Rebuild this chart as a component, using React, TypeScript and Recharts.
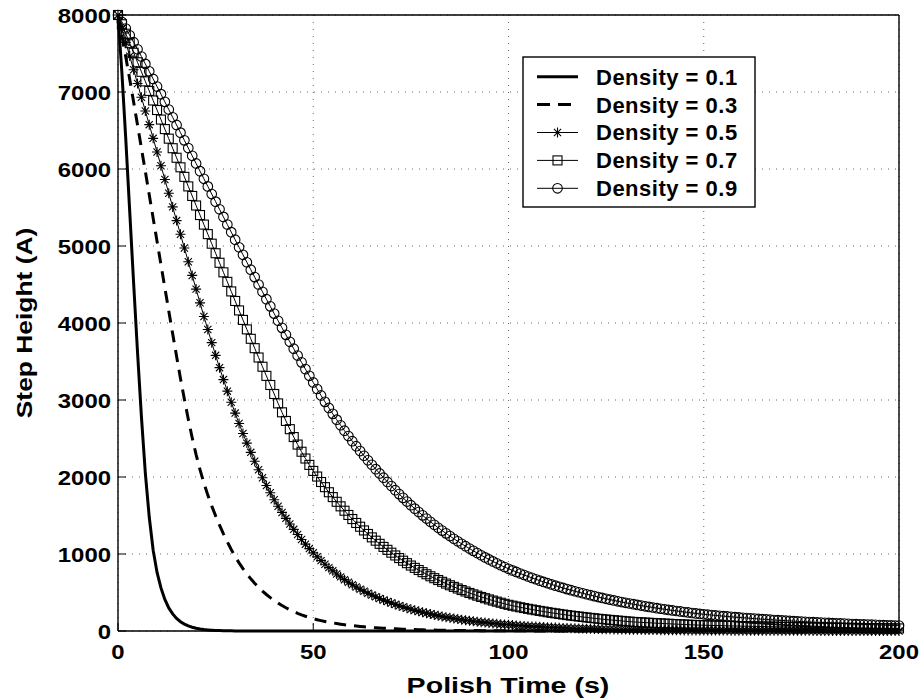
import React from 'react'
import { LineChart, Line, XAxis, YAxis, CartesianGrid } from 'recharts'

// one sample per second, 0..200 s
const TIME_STEP = 1
const X_TICKS = [0, 50, 100, 150, 200]
const Y_TICKS = [0, 1000, 2000, 3000, 4000, 5000, 6000, 7000, 8000]

const DENSITY_01 = [
  8000, 7250, 6380, 5450, 4520, 3620, 2780, 2050, 1480, 1050,
  760, 560, 410, 300, 222, 164, 121, 90, 66, 49,
  36, 26, 19, 14, 10, 7, 5, 4, 3, 2,
  1, 1, 0, 0, 0, 0, 0, 0, 0, 0,
  0, 0, 0, 0, 0, 0, 0, 0, 0, 0, 0, 0, 0, 0, 0, 0, 0, 0, 0, 0,
  0, 0, 0, 0, 0, 0, 0, 0, 0, 0, 0, 0, 0, 0, 0, 0, 0, 0, 0, 0,
  0, 0, 0, 0, 0, 0, 0, 0, 0, 0, 0, 0, 0, 0, 0, 0, 0, 0, 0, 0,
  0, 0, 0, 0, 0, 0, 0, 0, 0, 0, 0, 0, 0, 0, 0, 0, 0, 0, 0, 0,
  0, 0, 0, 0, 0, 0, 0, 0, 0, 0, 0, 0, 0, 0, 0, 0, 0, 0, 0, 0,
  0, 0, 0, 0, 0, 0, 0, 0, 0, 0, 0, 0, 0, 0, 0, 0, 0, 0, 0, 0,
  0, 0, 0, 0, 0, 0, 0, 0, 0, 0, 0, 0, 0, 0, 0, 0, 0, 0, 0, 0,
  0, 0, 0, 0, 0, 0, 0, 0, 0, 0, 0, 0, 0, 0, 0, 0, 0, 0, 0, 0,
  0,
]

const DENSITY_03 = [
  8000, 7735, 7455, 7165, 6870, 6570, 6270, 5968, 5665, 5362,
  5060, 4758, 4457, 4157, 3860, 3567, 3280, 3010, 2750, 2510,
  2290, 2095, 1920, 1765, 1625, 1495, 1375, 1262, 1157, 1058,
  965, 885, 810, 740, 677, 620, 567, 518, 474, 433,
  396, 362, 331, 302, 276, 252, 230, 210, 192, 175,
  160, 147, 135, 124, 114, 105, 97, 89, 82, 75,
  69, 64, 59, 54, 50, 46, 42, 39, 36, 33,
  30, 28, 26, 24, 22, 20, 18, 17, 16, 14,
  13, 12, 11, 10, 9, 9, 8, 7, 7, 6,
  6, 5, 5, 4, 4, 4, 3, 3, 3, 3,
  2, 2, 2, 2, 2, 1, 1, 1, 1, 1,
  0, 0, 0, 0, 0, 0, 0, 0, 0, 0, 0, 0, 0, 0, 0, 0, 0, 0, 0, 0,
  0, 0, 0, 0, 0, 0, 0, 0, 0, 0, 0, 0, 0, 0, 0, 0, 0, 0, 0, 0,
  0, 0, 0, 0, 0, 0, 0, 0, 0, 0, 0, 0, 0, 0, 0, 0, 0, 0, 0, 0,
  0, 0, 0, 0, 0, 0, 0, 0, 0, 0, 0, 0, 0, 0, 0, 0, 0, 0, 0, 0,
  0, 0, 0, 0, 0, 0, 0, 0, 0, 0,
  0,
]

const DENSITY_05 = [
  8000, 7822, 7644, 7466, 7288, 7110, 6932, 6754, 6576, 6398,
  6220, 6042, 5864, 5686, 5508, 5330, 5152, 4974, 4796, 4618,
  4440, 4262, 4085, 3915, 3745, 3580, 3420, 3265, 3115, 2970,
  2830, 2695, 2565, 2440, 2320, 2205, 2095, 1990, 1890, 1795,
  1705, 1620, 1540, 1463, 1390, 1320, 1253, 1189, 1128, 1070,
  1015, 963, 914, 867, 823, 781, 741, 703, 667, 633,
  600, 571, 543, 516, 491, 467, 444, 422, 401, 382,
  363, 345, 328, 312, 297, 282, 268, 255, 243, 231,
  220, 209, 199, 189, 180, 171, 163, 155, 147, 140,
  133, 127, 120, 115, 109, 104, 99, 94, 89, 85,
  81, 77, 73, 69, 66, 63, 60, 57, 54, 52,
  49, 47, 44, 42, 40, 38, 36, 35, 33, 31,
  30, 28, 27, 26, 24, 23, 22, 21, 20, 19,
  18, 17, 16, 15, 15, 14, 13, 12, 12, 11,
  11, 10, 10, 9, 9, 8, 8, 7, 7, 7,
  6, 6, 6, 5, 5, 5, 5, 4, 4, 4,
  4, 4, 3, 3, 3, 3, 3, 3, 2, 2,
  2, 2, 2, 2, 2, 2, 2, 2, 1, 1,
  1, 1, 1, 1, 1, 1, 1, 1, 1, 1,
  1, 1, 1, 1, 1, 1, 1, 1, 1, 1,
  1,
]

const DENSITY_07 = [
  8000, 7880, 7757, 7634, 7510, 7386, 7262, 7138, 7014, 6890,
  6766, 6642, 6518, 6394, 6270, 6146, 6022, 5898, 5774, 5650,
  5526, 5402, 5278, 5154, 5030, 4906, 4782, 4658, 4534, 4410,
  4286, 4163, 4040, 3917, 3795, 3673, 3552, 3432, 3313, 3195,
  3078, 2956, 2840, 2728, 2621, 2519, 2421, 2328, 2240, 2157,
  2079, 2006, 1935, 1868, 1802, 1739, 1678, 1619, 1562, 1507,
  1454, 1403, 1354, 1306, 1260, 1216, 1173, 1132, 1092, 1054,
  1017, 981, 947, 913, 881, 850, 820, 792, 764, 737,
  711, 686, 662, 639, 616, 594, 573, 552, 532, 513,
  494, 476, 459, 442, 426, 410, 395, 381, 367, 353,
  340, 329, 318, 308, 298, 288, 279, 270, 261, 253,
  244, 236, 229, 221, 214, 207, 200, 194, 188, 182,
  176, 170, 165, 159, 154, 149, 144, 140, 135, 131,
  126, 122, 118, 115, 112, 109, 107, 104, 101, 99,
  96, 94, 91, 89, 87, 84, 82, 80, 78, 76,
  75, 74, 72, 71, 70, 69, 67, 66, 65, 64,
  63, 62, 61, 60, 59, 58, 57, 56, 55, 54,
  53, 53, 52, 51, 50, 50, 49, 48, 47, 46,
  46, 45, 44, 43, 43, 42, 41, 41, 40, 39,
  39, 38, 37, 37, 36, 36, 35, 34, 34, 33,
  33,
]

const DENSITY_09 = [
  8000, 7910, 7825, 7737, 7647, 7555, 7461, 7365, 7268, 7170,
  7071, 6972, 6872, 6772, 6672, 6572, 6472, 6372, 6272, 6172,
  6072, 5972, 5873, 5774, 5675, 5576, 5477, 5378, 5279, 5180,
  5082, 4984, 4886, 4789, 4692, 4596, 4500, 4405, 4310, 4216,
  4122, 4029, 3937, 3846, 3756, 3666, 3577, 3489, 3401, 3314,
  3228, 3143, 3059, 2976, 2897, 2820, 2745, 2672, 2601, 2532,
  2465, 2400, 2337, 2276, 2217, 2159, 2102, 2046, 1991, 1936,
  1882, 1829, 1778, 1729, 1681, 1634, 1589, 1545, 1502, 1460,
  1419, 1380, 1341, 1304, 1268, 1233, 1198, 1165, 1133, 1101,
  1071, 1041, 1012, 984, 956, 930, 904, 879, 854, 831,
  808, 787, 767, 747, 727, 708, 690, 672, 654, 637,
  621, 605, 589, 574, 559, 544, 530, 516, 503, 490,
  477, 465, 453, 441, 429, 418, 407, 397, 386, 376,
  366, 357, 348, 339, 330, 321, 313, 305, 297, 289,
  282, 274, 267, 260, 254, 247, 241, 234, 228, 222,
  217, 212, 207, 202, 198, 193, 189, 184, 180, 176,
  172, 168, 164, 161, 157, 153, 150, 147, 143, 140,
  137, 134, 131, 128, 125, 122, 120, 117, 114, 112,
  109, 107, 105, 102, 100, 98, 96, 93, 91, 89,
  87, 85, 83, 82, 80, 78, 76, 75, 73, 71,
  70,
]

type Kind = 'solid' | 'dashed' | 'star' | 'square' | 'circle'

const SERIES: { key: string; label: string; kind: Kind; values: number[] }[] = [
  { key: 'd01', label: 'Density = 0.1', kind: 'solid', values: DENSITY_01 },
  { key: 'd03', label: 'Density = 0.3', kind: 'dashed', values: DENSITY_03 },
  { key: 'd05', label: 'Density = 0.5', kind: 'star', values: DENSITY_05 },
  { key: 'd07', label: 'Density = 0.7', kind: 'square', values: DENSITY_07 },
  { key: 'd09', label: 'Density = 0.9', kind: 'circle', values: DENSITY_09 },
]

const rows = DENSITY_09.map((_, i) => {
  const row: Record<string, number> = { t: i * TIME_STEP }
  SERIES.forEach(s => { row[s.key] = s.values[i] })
  return row
})

const FONT = "'Liberation Sans', Arial, Helvetica, sans-serif"
const DASH = '12 8'

function markerShape(kind: Kind, cx: number, cy: number, key?: string | number) {
  if (kind === 'star') {
    const r = 5
    const d = r * 0.72
    return (
      <path key={key} fill="none" stroke="#000" strokeWidth={1.1}
        d={`M${cx - r},${cy}L${cx + r},${cy}M${cx},${cy - r}L${cx},${cy + r}` +
          `M${cx - d},${cy - d}L${cx + d},${cy + d}M${cx - d},${cy + d}L${cx + d},${cy - d}`} />
    )
  }
  if (kind === 'square') {
    return <rect key={key} x={cx - 4.5} y={cy - 4.5} width={9} height={9} fill="none" stroke="#000" strokeWidth={1.1} />
  }
  return <circle key={key} cx={cx} cy={cy} r={4.8} fill="none" stroke="#000" strokeWidth={1.1} />
}

const makeDot = (kind: Kind) => (props: any) => {
  const { cx, cy, index } = props
  if (cx == null || cy == null) return <g key={`e-${index}`} />
  return markerShape(kind, cx, cy, `m-${index}`)
}

const XTick = (props: any) => {
  const { x, y, payload } = props
  return (
    <text transform={`translate(${x},${y}) scale(1.14,1)`} textAnchor="middle" dy="0.72em"
      fill="#000" fontFamily={FONT} fontWeight="bold" fontSize={21}>
      {payload.value}
    </text>
  )
}

const YTick = (props: any) => {
  const { x, y, payload } = props
  return (
    <text transform={`translate(${x},${y}) scale(1.14,1)`} textAnchor="end" dy="0.36em"
      fill="#000" fontFamily={FONT} fontWeight="bold" fontSize={21}>
      {payload.value}
    </text>
  )
}

function LegendBox() {
  const rowY = [76.7, 104.6, 132.5, 160.4, 188.3]
  return (
    <g>
      <rect x={523} y={57} width={232} height={150} fill="#fff" stroke="#000" strokeWidth={1.4} />
      {SERIES.map((s, i) => {
        const y = rowY[i]
        const thick = s.kind === 'solid' || s.kind === 'dashed'
        return (
          <g key={s.key}>
            <line x1={537} x2={578} y1={y} y2={y} stroke="#000" strokeWidth={thick ? 3 : 1}
              strokeDasharray={s.kind === 'dashed' ? '13 8' : undefined} />
            {!thick && markerShape(s.kind, 557.5, y)}
            <text x={596} y={y} dy="0.36em" fontFamily={FONT} fontWeight="bold" fontSize={22}
              letterSpacing={0.5} fill="#000">{s.label}</text>
          </g>
        )
      })}
    </g>
  )
}

export default function App() {
  return (
    <div style={{ position: 'absolute', left: 0, top: 0, width: 920, height: 698, background: '#fff' }}>
      <LineChart width={920} height={698} data={rows}
        margin={{ top: 14, right: 20, bottom: 7, left: 18 }}>
        <CartesianGrid stroke="#666" strokeDasharray="1 6" />
        <XAxis dataKey="t" type="number" domain={[0, 200]} ticks={X_TICKS} height={60}
          axisLine={{ stroke: '#000', strokeWidth: 1.4 }} tickLine={{ stroke: '#000' }} tickSize={-8} tickMargin={21}
          tick={<XTick />} interval={0} />
        <XAxis xAxisId="top" orientation="top" type="number" domain={[0, 200]} ticks={X_TICKS}
          height={1} axisLine={{ stroke: '#000', strokeWidth: 1.4 }} tickLine={{ stroke: '#000' }} tickSize={-8} tick={false} />
        <YAxis type="number" domain={[0, 8000]} ticks={Y_TICKS} width={100} interval={0}
          axisLine={{ stroke: '#000', strokeWidth: 1.4 }} tickLine={{ stroke: '#000' }} tickSize={-8} tickMargin={15}
          tick={<YTick />} />
        <YAxis yAxisId="right" orientation="right" type="number" domain={[0, 8000]} ticks={Y_TICKS}
          width={1} axisLine={{ stroke: '#000', strokeWidth: 1.4 }} tickLine={{ stroke: '#000' }} tickSize={-8} tick={false} />
        {SERIES.map(s => (
          <Line key={s.key} dataKey={s.key} type="linear" stroke="#000"
            strokeWidth={s.kind === 'solid' || s.kind === 'dashed' ? 3 : 1}
            strokeDasharray={s.kind === 'dashed' ? DASH : undefined}
            dot={s.kind === 'solid' || s.kind === 'dashed' ? false : makeDot(s.kind)}
            activeDot={false} isAnimationActive={false} />
        ))}
      </LineChart>
      <svg width={920} height={698} style={{ position: 'absolute', left: 0, top: 0, pointerEvents: 'none' }}>
        <text transform="translate(508,685) scale(1.3,1)" textAnchor="middle" dy="0.36em"
          fontFamily={FONT} fontWeight="bold" fontSize={22} fill="#000">Polish Time (s)</text>
        <text transform="translate(24,323) rotate(-90) scale(1.2,1)" textAnchor="middle" dy="0.36em"
          fontFamily={FONT} fontWeight="bold" fontSize={22} fill="#000">Step Height (A)</text>
        <LegendBox />
      </svg>
    </div>
  )
}
